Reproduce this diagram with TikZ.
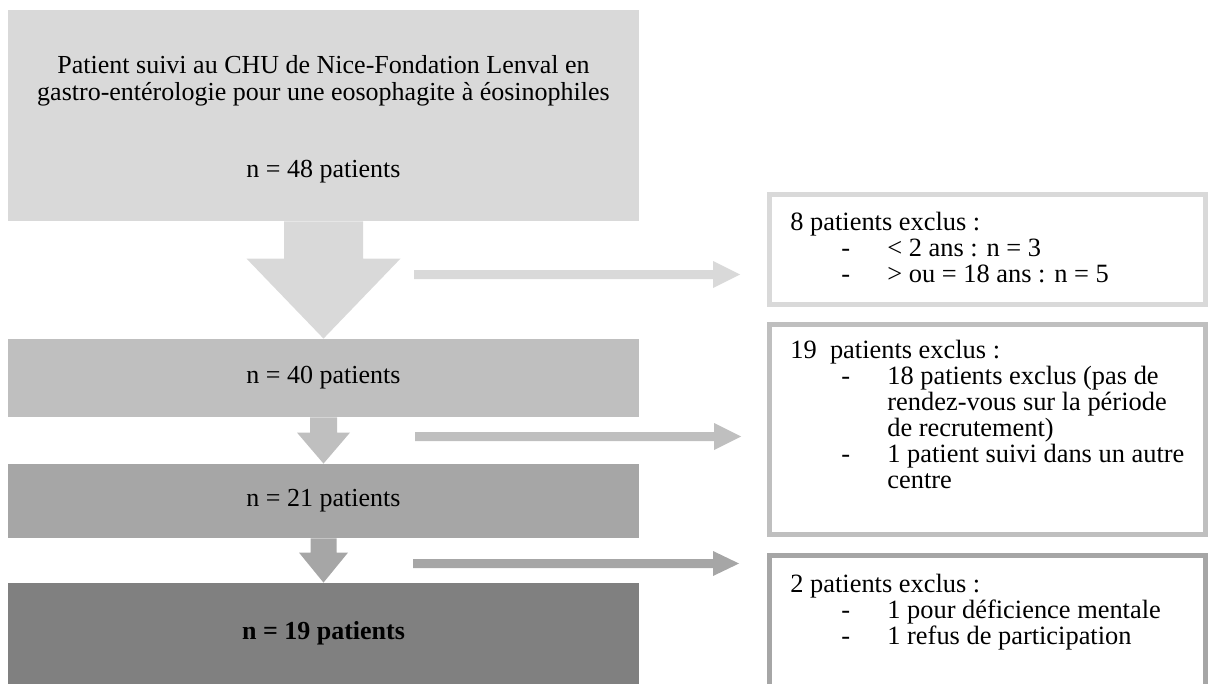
\documentclass[tikz,border=0pt]{standalone}
\usepackage{fontspec}
\setmainfont{Liberation Serif}
\usetikzlibrary{arrows.meta, positioning, calc}
\definecolor{grisA}{RGB}{217,217,217}
\definecolor{grisB}{RGB}{191,191,191}
\definecolor{grisC}{RGB}{166,166,166}
\definecolor{grisD}{RGB}{128,128,128}
\AtBeginDocument{\fontsize{13.2}{13}\selectfont}

\newcommand{\tiret}{\hspace*{25.5pt}\makebox[23pt][l]{-}}
\newcommand{\suite}{\hspace*{48.5pt}}

% block arrow down: from, to, stem half width, head half width, head length, colour
\newcommand{\flecheBas}[6]{%
  \fill[#6] ($(#1.south)+(-#3,0)$) -- ($(#1.south)+(#3,0)$)
    |- ($(#2.north)+(#4,-#5)$) -- (#2.north) -- ($(#2.north)+(-#4,-#5)$)
    -- ($(#2.north)+(-#3,-#5)$) -- cycle;}

% block arrow right: from, to, bar half height, head half height, head length, colour
\newcommand{\flecheDroite}[6]{%
  \fill[#6] ($(#1)+(0,-#3)$) -- ($(#2)+(-#5,-#3)$) -- ($(#2)+(-#5,-#4)$)
    -- (#2) -- ($(#2)+(-#5,#4)$) -- ($(#2)+(-#5,#3)$) -- ($(#1)+(0,#3)$) -- cycle;}

\begin{document}
\begin{tikzpicture}[x=0.5pt, y=-0.5pt,
    etape/.style={inner sep=0pt, minimum width=315.5pt, align=center,
      font=\fontsize{13}{13}\selectfont},
    exclusion/.style={draw, line width=2.5pt, fill=white, minimum width=218pt, inner sep=0pt},
    texte/.style={anchor=north west, inner sep=0pt, align=left,
      font=\fontsize{13.2}{13}\selectfont}]
  \useasboundingbox (0,0) rectangle (1209,684);

  % Main steps
  \node[etape, fill=grisA, minimum height=105.5pt] (n48) at (323.5,115.5)
    {\rule{0pt}{13pt}Patient suivi au CHU de Nice-Fondation Lenval en\\[0.5pt]
     gastro-entérologie pour une eosophagite à éosinophiles\\[25.5pt]
     n = 48 patients};
  \node[etape, fill=grisB, minimum height=39pt] (n40) at (323.5,378) {n = 40 patients};
  \node[etape, fill=grisC, minimum height=37pt] (n21) at (323.5,501) {n = 21 patients};
  \node[etape, fill=grisD, minimum height=50.5pt,
    font=\fontsize{13}{13}\selectfont\bfseries] (n19) at (323.5,633.5) {n = 19 patients};

  % Down arrows
  \flecheBas{n48}{n40}{39.5}{77}{80}{grisA}
  \flecheBas{n40}{n21}{13.5}{26.5}{31}{grisB}
  \flecheBas{n21}{n19}{13}{24.5}{30}{grisC}

  % Exclusion boxes
  \node[exclusion, draw=grisA, minimum height=55pt] (excl8) at (987.5,249.5) {};
  \node[exclusion, draw=grisB, minimum height=105pt] (excl19) at (987.5,429.5) {};
  \node[exclusion, draw=grisC, minimum height=77.25pt] (excl2) at (987.5,632.75) {};

  \node[texte] (t8) at (790,212)
    {8 patients exclus :\\
     \tiret< 2 ans : n = 3\\
     \tiret> ou = 18 ans : n = 5};
  \node[texte] (t19) at (790,340)
    {19~ patients exclus :\\
     \tiret 18 patients exclus (pas de\\
     \suite rendez-vous sur la période\\
     \suite de recrutement)\\
     \tiret 1 patient suivi dans un autre\\
     \suite centre};
  \node[texte] (t2) at (790,574)
    {2 patients exclus :\\
     \tiret 1 pour déficience mentale\\
     \tiret 1 refus de participation};

  % Side arrows
  \coordinate (d8) at (414,274.5);
  \coordinate (f8) at (740,274.5);
  \coordinate (d19) at (415,436.5);
  \coordinate (f19) at (741,436.5);
  \coordinate (d2) at (413,563.5);
  \coordinate (f2) at (739,563.5);
  \flecheDroite{d8}{f8}{4.5}{13.5}{27}{grisA}
  \flecheDroite{d19}{f19}{4.5}{13.5}{27}{grisB}
  \flecheDroite{d2}{f2}{4.5}{12.5}{26}{grisC}
\end{tikzpicture}
\end{document}
